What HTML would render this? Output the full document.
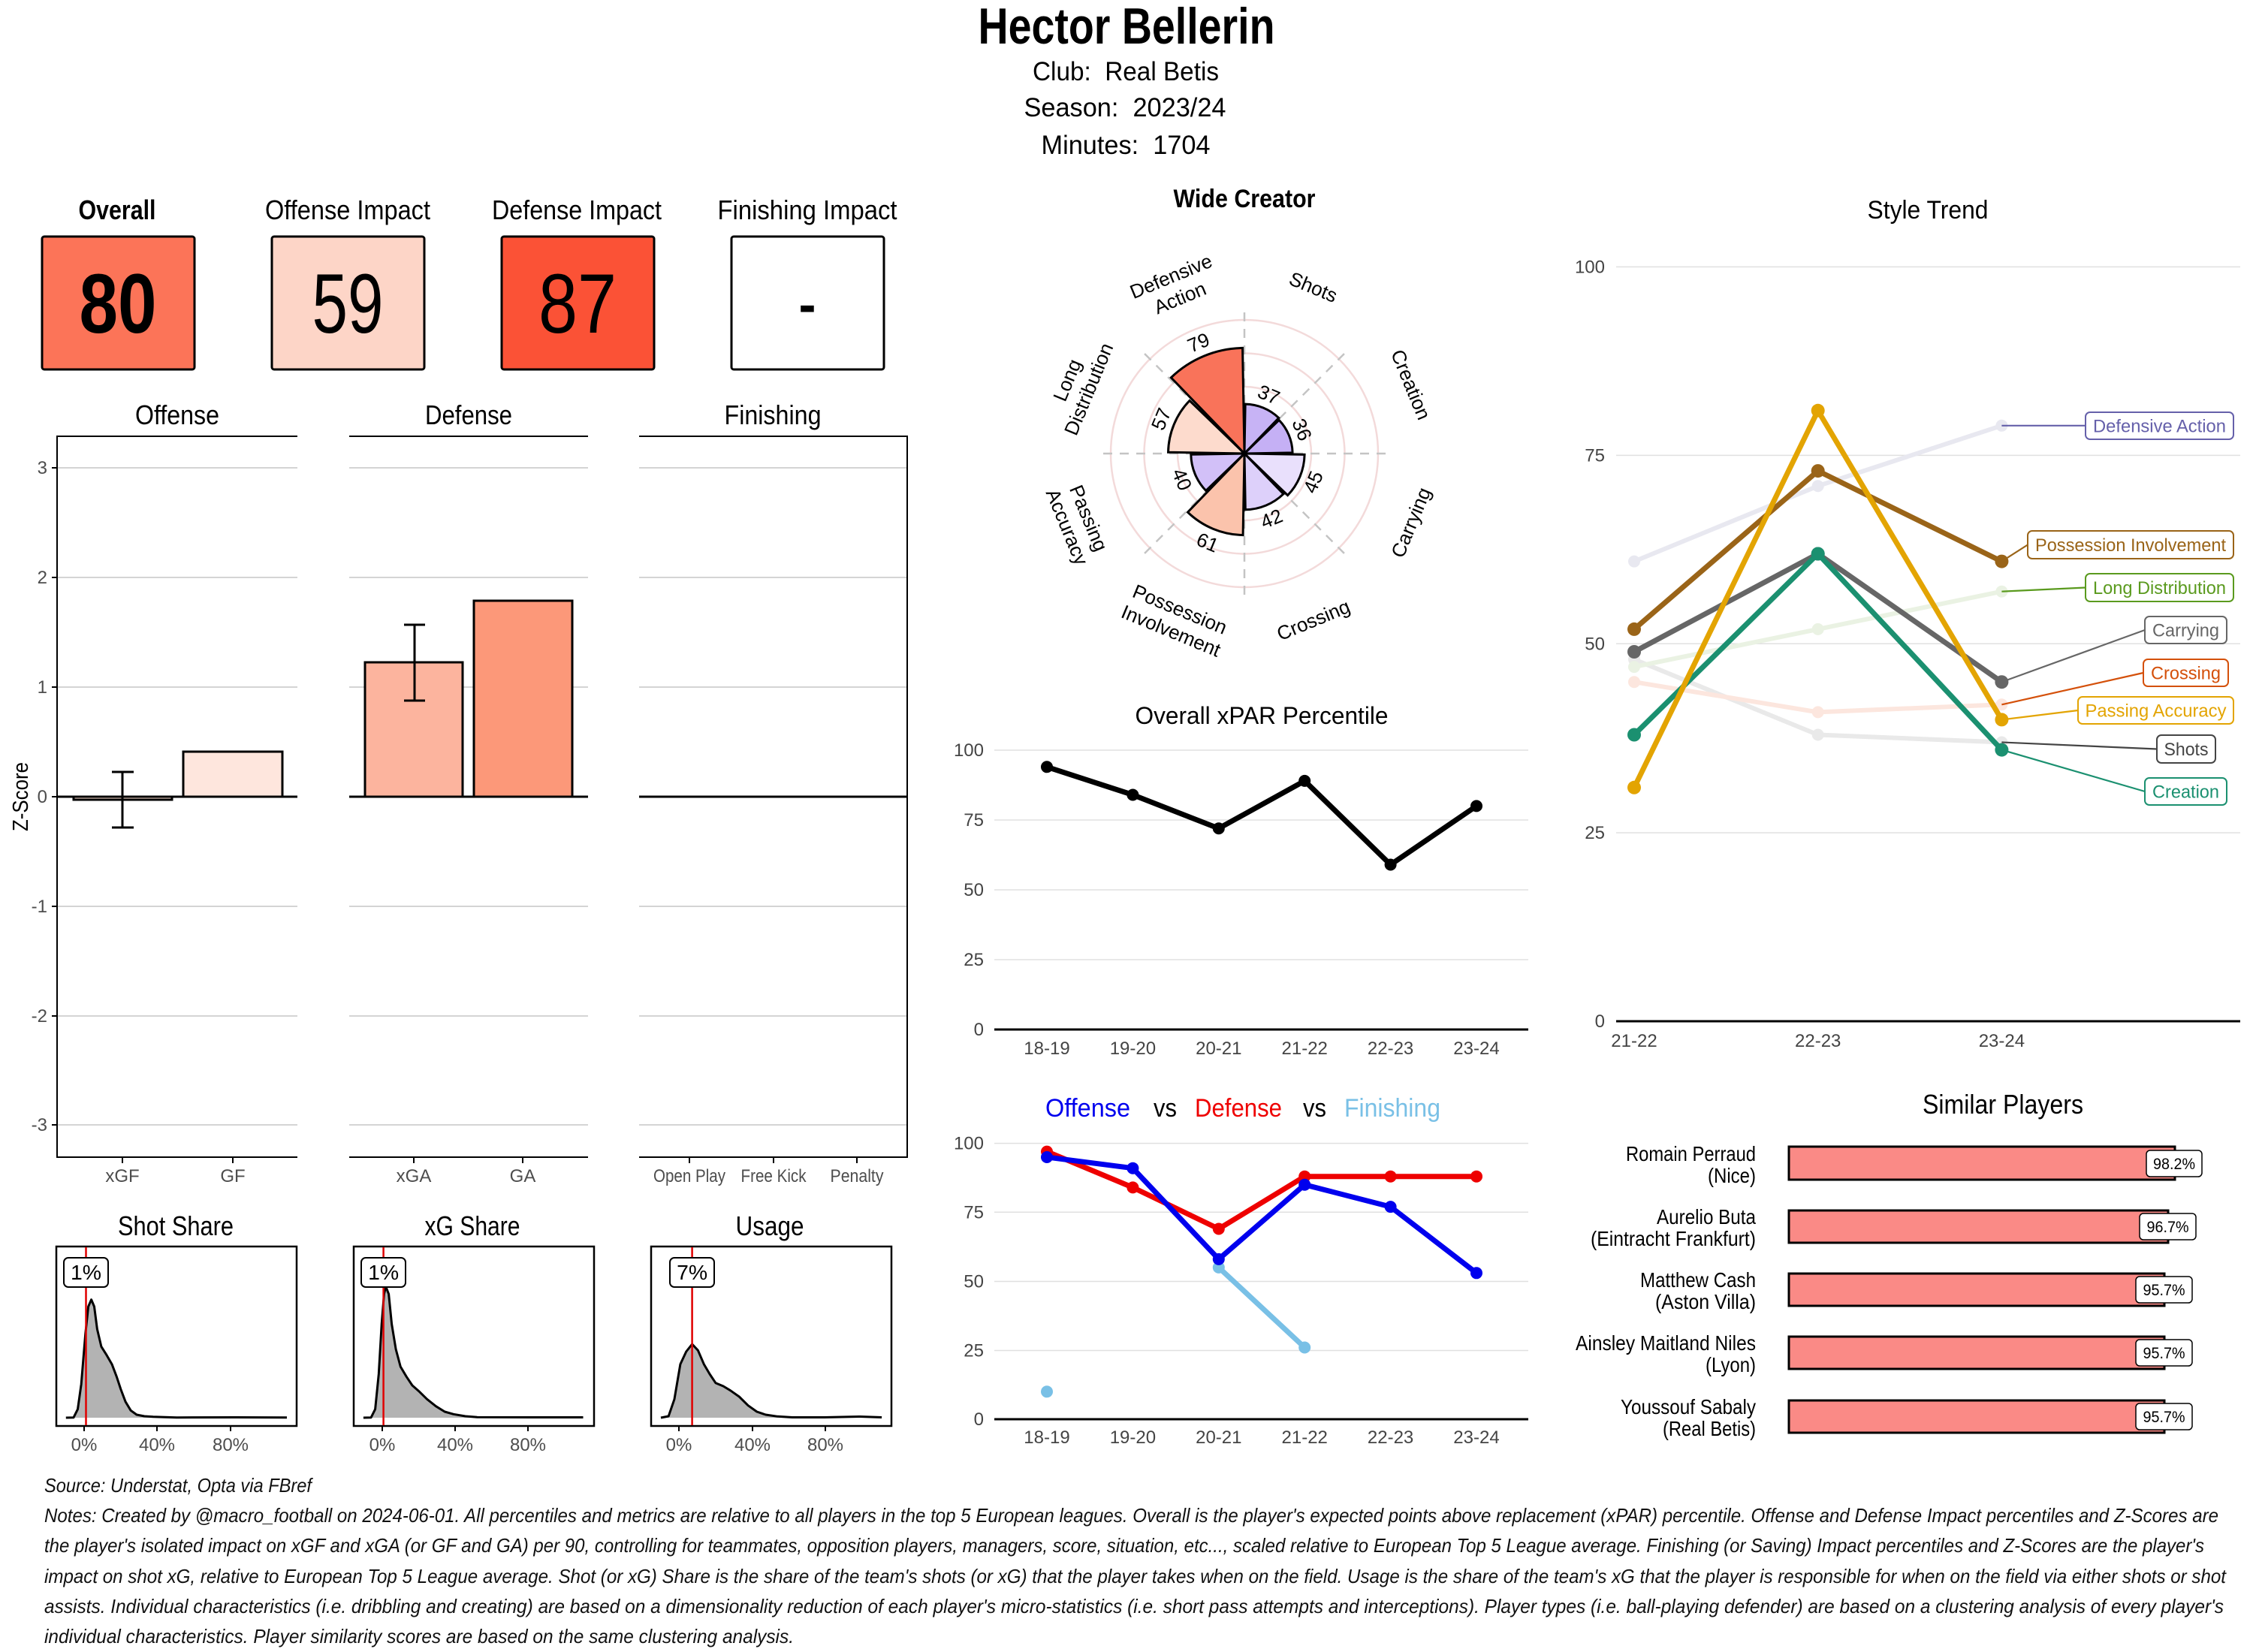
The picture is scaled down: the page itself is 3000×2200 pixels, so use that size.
<!DOCTYPE html>
<html><head><meta charset="utf-8"><style>
html,body{margin:0;padding:0;background:#fff;}
svg{display:block;}
.c{font-family:"Liberation Sans Narrow","Liberation Sans",sans-serif;}
.a{font-family:"Liberation Sans",sans-serif;}
text{white-space:pre;}
</style></head><body>
<svg width="3000" height="2200" viewBox="0 0 3000 2200" xmlns="http://www.w3.org/2000/svg">
<rect width="3000" height="2200" fill="#fff"/>

<!-- Header -->
<text class="c" x="1500" y="58" text-anchor="middle" font-size="68" font-weight="bold" textLength="395" lengthAdjust="spacingAndGlyphs">Hector Bellerin</text>
<text class="c" x="1499" y="107" text-anchor="middle" font-size="35" textLength="248" lengthAdjust="spacingAndGlyphs">Club:  Real Betis</text>
<text class="c" x="1498" y="155" text-anchor="middle" font-size="35" textLength="269" lengthAdjust="spacingAndGlyphs">Season:  2023/24</text>
<text class="c" x="1499" y="205" text-anchor="middle" font-size="35" textLength="225" lengthAdjust="spacingAndGlyphs">Minutes:  1704</text>

<!-- Top impact boxes -->
<g class="c" font-size="36" text-anchor="middle">
<text x="156" y="292" font-weight="bold" textLength="103" lengthAdjust="spacingAndGlyphs">Overall</text>
<text x="463" y="292" textLength="220" lengthAdjust="spacingAndGlyphs">Offense Impact</text>
<text x="768" y="292" textLength="226" lengthAdjust="spacingAndGlyphs">Defense Impact</text>
<text x="1075" y="292" textLength="239" lengthAdjust="spacingAndGlyphs">Finishing Impact</text>
</g>
<g stroke="#000" stroke-width="3">
<rect x="56" y="315" width="203" height="177" rx="3" fill="#FC7458"/>
<rect x="362" y="315" width="203" height="177" rx="3" fill="#FDD5C7"/>
<rect x="668" y="315" width="203" height="177" rx="3" fill="#FB5236"/>
<rect x="974" y="315" width="203" height="177" rx="3" fill="#FFFFFF"/>
</g>
<g class="c" text-anchor="middle" fill="#000">
<text x="157" y="443" font-size="112" font-weight="bold" textLength="103" lengthAdjust="spacingAndGlyphs">80</text>
<text x="463" y="443" font-size="112" textLength="95" lengthAdjust="spacingAndGlyphs">59</text>
<text x="769" y="443" font-size="112" textLength="104" lengthAdjust="spacingAndGlyphs">87</text>
<text x="1075" y="430" font-size="72" font-weight="bold" textLength="23" lengthAdjust="spacingAndGlyphs">-</text>
</g>

<!-- Bar panels -->
<g class="c" font-size="36" text-anchor="middle">
<text x="236" y="565" textLength="112" lengthAdjust="spacingAndGlyphs">Offense</text>
<text x="624" y="565" textLength="116" lengthAdjust="spacingAndGlyphs">Defense</text>
<text x="1029" y="565" textLength="129" lengthAdjust="spacingAndGlyphs">Finishing</text>
</g>
<g stroke="#c6c6c6" stroke-width="1.5">
<line x1="76" y1="623" x2="396" y2="623"/><line x1="76" y1="769" x2="396" y2="769"/><line x1="76" y1="915" x2="396" y2="915"/>
<line x1="76" y1="1207" x2="396" y2="1207"/><line x1="76" y1="1353" x2="396" y2="1353"/><line x1="76" y1="1498" x2="396" y2="1498"/>
<line x1="465" y1="623" x2="783" y2="623"/><line x1="465" y1="769" x2="783" y2="769"/><line x1="465" y1="915" x2="783" y2="915"/>
<line x1="465" y1="1207" x2="783" y2="1207"/><line x1="465" y1="1353" x2="783" y2="1353"/><line x1="465" y1="1498" x2="783" y2="1498"/>
<line x1="851" y1="623" x2="1208" y2="623"/><line x1="851" y1="769" x2="1208" y2="769"/><line x1="851" y1="915" x2="1208" y2="915"/>
<line x1="851" y1="1207" x2="1208" y2="1207"/><line x1="851" y1="1353" x2="1208" y2="1353"/><line x1="851" y1="1498" x2="1208" y2="1498"/>
</g>
<g stroke="#000" stroke-width="2">
<line x1="76" y1="581" x2="396" y2="581"/><line x1="76" y1="1541" x2="396" y2="1541"/><line x1="76" y1="580" x2="76" y2="1542"/>
<line x1="465" y1="581" x2="783" y2="581"/><line x1="465" y1="1541" x2="783" y2="1541"/>
<line x1="851" y1="581" x2="1208" y2="581"/><line x1="851" y1="1541" x2="1208" y2="1541"/><line x1="1208" y1="580" x2="1208" y2="1542"/>
<line x1="69" y1="623" x2="76" y2="623"/><line x1="69" y1="769" x2="76" y2="769"/><line x1="69" y1="915" x2="76" y2="915"/><line x1="69" y1="1061" x2="76" y2="1061"/>
<line x1="69" y1="1207" x2="76" y2="1207"/><line x1="69" y1="1353" x2="76" y2="1353"/><line x1="69" y1="1498" x2="76" y2="1498"/>
<line x1="163" y1="1541" x2="163" y2="1549"/><line x1="310" y1="1541" x2="310" y2="1549"/>
<line x1="551" y1="1541" x2="551" y2="1549"/><line x1="696" y1="1541" x2="696" y2="1549"/>
<line x1="918" y1="1541" x2="918" y2="1549"/><line x1="1030" y1="1541" x2="1030" y2="1549"/><line x1="1141" y1="1541" x2="1141" y2="1549"/>
</g>
<g class="c" font-size="24" fill="#4d4d4d" text-anchor="end">
<text x="63" y="631">3</text><text x="63" y="777">2</text><text x="63" y="923">1</text><text x="63" y="1069">0</text>
<text x="63" y="1215">-1</text><text x="63" y="1361">-2</text><text x="63" y="1506">-3</text>
</g>
<g class="c" font-size="24" fill="#4d4d4d" text-anchor="middle">
<text x="163" y="1574">xGF</text><text x="310" y="1574">GF</text>
<text x="551" y="1574">xGA</text><text x="696" y="1574">GA</text>
<text x="918" y="1574" textLength="96" lengthAdjust="spacingAndGlyphs">Open Play</text><text x="1030" y="1574" textLength="87" lengthAdjust="spacingAndGlyphs">Free Kick</text><text x="1141" y="1574" textLength="71" lengthAdjust="spacingAndGlyphs">Penalty</text>
</g>
<text class="a" font-size="29" text-anchor="middle" transform="translate(37,1061) rotate(-90)" textLength="92" lengthAdjust="spacingAndGlyphs">Z-Score</text>
<g stroke="#000" stroke-width="3">
<rect x="98" y="1061" width="131" height="4" fill="#FEE0D2"/>
<rect x="244" y="1001" width="132" height="60" fill="#FEE6DD"/>
<rect x="486" y="882" width="130" height="179" fill="#FCB49E"/>
<rect x="631" y="800" width="131" height="261" fill="#FC9879"/>
<line x1="76" y1="1061" x2="396" y2="1061"/>
<line x1="465" y1="1061" x2="783" y2="1061"/>
<line x1="851" y1="1061" x2="1208" y2="1061"/>
<line x1="163" y1="1028" x2="163" y2="1102"/><line x1="149" y1="1028" x2="178" y2="1028"/><line x1="149" y1="1102" x2="178" y2="1102"/>
<line x1="552" y1="832" x2="552" y2="933"/><line x1="538" y1="832" x2="566" y2="832"/><line x1="538" y1="933" x2="566" y2="933"/>
</g>

<!-- Density panels -->
<g class="c" font-size="36" text-anchor="middle">
<text x="234" y="1645" textLength="154" lengthAdjust="spacingAndGlyphs">Shot Share</text>
<text x="629" y="1645" textLength="127" lengthAdjust="spacingAndGlyphs">xG Share</text>
<text x="1025" y="1645" textLength="91" lengthAdjust="spacingAndGlyphs">Usage</text>
</g>
<g fill="#b3b3b3">
<path d="M87.8,1888 L98,1887.7 L103.5,1876.7 L108.2,1843.3 L113.7,1776.7 L117.6,1740 L121.6,1730.7 L125.5,1740 L129.4,1770 L134.9,1793.3 L141.2,1803.3 L149,1816.7 L155.3,1833.3 L160.8,1850 L167.1,1866.7 L174.1,1878.3 L182,1884 L192.2,1886 L203.9,1886.7 L235.3,1887.7 L313.7,1887.5 L382,1887.7 L382,1888 Z"/>
<path d="M483.9,1888 L494.1,1887.7 L499.6,1876.7 L504.3,1830 L508.2,1763.3 L511.4,1723.3 L513.7,1713.3 L517.6,1723.3 L521.6,1763.3 L527.1,1796.7 L533.3,1820 L541.2,1833.3 L549,1845 L558.4,1853.3 L568.6,1863.3 L580.4,1872.7 L592.2,1880 L603.9,1883.3 L619.6,1886 L635.3,1887.3 L705.9,1887.5 L776.5,1887.5 L776.5,1888 Z"/>
<path d="M880,1888 L890.2,1886 L898,1863.3 L905.9,1816.7 L913.7,1800 L921.6,1790 L929.4,1798.3 L937.3,1816.7 L945.1,1830 L952.9,1841.7 L963.1,1846 L972.5,1851.7 L984.3,1860 L996.1,1871.7 L1007.8,1880 L1019.6,1884 L1035.3,1886.3 L1054.9,1887.5 L1098,1887.5 L1145.1,1886.5 L1174.1,1887.5 L1174.1,1888 Z"/>
</g>
<g fill="none" stroke="#000" stroke-width="3" stroke-linejoin="round">
<path d="M87.8,1888 L98,1887.7 L103.5,1876.7 L108.2,1843.3 L113.7,1776.7 L117.6,1740 L121.6,1730.7 L125.5,1740 L129.4,1770 L134.9,1793.3 L141.2,1803.3 L149,1816.7 L155.3,1833.3 L160.8,1850 L167.1,1866.7 L174.1,1878.3 L182,1884 L192.2,1886 L203.9,1886.7 L235.3,1887.7 L313.7,1887.5 L382,1887.7"/>
<path d="M483.9,1888 L494.1,1887.7 L499.6,1876.7 L504.3,1830 L508.2,1763.3 L511.4,1723.3 L513.7,1713.3 L517.6,1723.3 L521.6,1763.3 L527.1,1796.7 L533.3,1820 L541.2,1833.3 L549,1845 L558.4,1853.3 L568.6,1863.3 L580.4,1872.7 L592.2,1880 L603.9,1883.3 L619.6,1886 L635.3,1887.3 L705.9,1887.5 L776.5,1887.5"/>
<path d="M880,1888 L890.2,1886 L898,1863.3 L905.9,1816.7 L913.7,1800 L921.6,1790 L929.4,1798.3 L937.3,1816.7 L945.1,1830 L952.9,1841.7 L963.1,1846 L972.5,1851.7 L984.3,1860 L996.1,1871.7 L1007.8,1880 L1019.6,1884 L1035.3,1886.3 L1054.9,1887.5 L1098,1887.5 L1145.1,1886.5 L1174.1,1887.5"/>
</g>
<g fill="none" stroke="#000" stroke-width="2.5">
<rect x="75" y="1660" width="320" height="239"/>
<rect x="471" y="1660" width="320" height="239"/>
<rect x="867" y="1660" width="320" height="239"/>
</g>
<g stroke="#000" stroke-width="2">
<line x1="112" y1="1899" x2="112" y2="1906"/><line x1="209" y1="1899" x2="209" y2="1906"/><line x1="307" y1="1899" x2="307" y2="1906"/>
<line x1="509" y1="1899" x2="509" y2="1906"/><line x1="606" y1="1899" x2="606" y2="1906"/><line x1="703" y1="1899" x2="703" y2="1906"/>
<line x1="904" y1="1899" x2="904" y2="1906"/><line x1="1002" y1="1899" x2="1002" y2="1906"/><line x1="1099" y1="1899" x2="1099" y2="1906"/>
</g>
<g stroke="#e00000" stroke-width="2.5">
<line x1="114.5" y1="1661" x2="114.5" y2="1898"/>
<line x1="510.6" y1="1661" x2="510.6" y2="1898"/>
<line x1="921.6" y1="1661" x2="921.6" y2="1898"/>
</g>
<g fill="#fff" stroke="#000" stroke-width="2">
<rect x="85" y="1675" width="59" height="39" rx="6"/>
<rect x="481" y="1675" width="59" height="39" rx="6"/>
<rect x="892" y="1675" width="59" height="39" rx="6"/>
</g>
<g class="c" font-size="28" text-anchor="middle">
<text x="114.5" y="1704" textLength="41" lengthAdjust="spacingAndGlyphs">1%</text>
<text x="510.6" y="1704" textLength="41" lengthAdjust="spacingAndGlyphs">1%</text>
<text x="921.6" y="1704" textLength="41" lengthAdjust="spacingAndGlyphs">7%</text>
</g>
<g class="c" font-size="24" fill="#4d4d4d" text-anchor="middle">
<text x="112" y="1932">0%</text><text x="209" y="1932">40%</text><text x="307" y="1932">80%</text>
<text x="509" y="1932">0%</text><text x="606" y="1932">40%</text><text x="703" y="1932">80%</text>
<text x="904" y="1932">0%</text><text x="1002" y="1932">40%</text><text x="1099" y="1932">80%</text>
</g>

<!-- Radar -->
<text class="c" x="1657" y="276" text-anchor="middle" font-size="34" font-weight="bold" textLength="189" lengthAdjust="spacingAndGlyphs">Wide Creator</text>
<g fill="none" stroke="#f3dada" stroke-width="2.5">
<circle cx="1657" cy="604" r="44.5"/><circle cx="1657" cy="604" r="89"/><circle cx="1657" cy="604" r="133.5"/><circle cx="1657" cy="604" r="178"/>
</g>
<g stroke="#c4c4c4" stroke-width="2.5" stroke-dasharray="12 10">
<line x1="1657" y1="604" x2="1657" y2="409"/>
<line x1="1657" y1="604" x2="1794.9" y2="466.1"/>
<line x1="1657" y1="604" x2="1852" y2="604"/>
<line x1="1657" y1="604" x2="1794.9" y2="741.9"/>
<line x1="1657" y1="604" x2="1657" y2="799"/>
<line x1="1657" y1="604" x2="1519.1" y2="741.9"/>
<line x1="1657" y1="604" x2="1462" y2="604"/>
<line x1="1657" y1="604" x2="1519.1" y2="466.1"/>
</g>
<g stroke="#000" stroke-width="3" stroke-linejoin="miter">
<path d="M1657,604 L1658.15,538.11 A65.9,65.9 0 0 1 1702.78,556.6 Z" fill="#C7B3F5"/>
<path d="M1657,604 L1703.11,559.47 A64.1,64.1 0 0 1 1721.09,602.88 Z" fill="#C5B0F5"/>
<path d="M1657,604 L1737.09,605.4 A80.1,80.1 0 0 1 1714.62,659.64 Z" fill="#E9E0FC"/>
<path d="M1657,604 L1708.96,657.81 A74.8,74.8 0 0 1 1658.31,678.79 Z" fill="#DDD0FA"/>
<path d="M1657,604 L1655.1,712.58 A108.6,108.6 0 0 1 1581.56,682.12 Z" fill="#FBC3AC"/>
<path d="M1657,604 L1605.78,653.46 A71.2,71.2 0 0 1 1585.81,605.24 Z" fill="#D2C0F8"/>
<path d="M1657,604 L1555.52,602.23 A101.5,101.5 0 0 1 1583.99,533.49 Z" fill="#FDDBCD"/>
<path d="M1657,604 L1559.33,502.86 A140.6,140.6 0 0 1 1654.55,463.42 Z" fill="#F9735A"/>
</g>
<g class="a" font-size="26" text-anchor="middle">
<text transform="translate(1689.5,525.5) rotate(22.5)" y="9">37</text>
<text transform="translate(1733.7,572.2) rotate(67.5)" y="9">36</text>
<text transform="translate(1748.5,641.9) rotate(-67.5)" y="9">45</text>
<text transform="translate(1693,690.8) rotate(-22.5)" y="9">42</text>
<text transform="translate(1608,722.3) rotate(22.5)" y="9">61</text>
<text transform="translate(1573.9,638.4) rotate(67.5)" y="9">40</text>
<text transform="translate(1546.1,558.1) rotate(-67.5)" y="9">57</text>
<text transform="translate(1595.8,456.2) rotate(-22.5)" y="9">79</text>
</g>
<g class="a" font-size="26" text-anchor="middle">
<text transform="translate(1748.8,382.3) rotate(22.5)" y="9">Shots</text>
<text transform="translate(1878.7,512.2) rotate(67.5)" y="9">Creation</text>
<text transform="translate(1878.7,695.8) rotate(-67.5)" y="9">Carrying</text>
<text transform="translate(1748.8,825.7) rotate(-22.5)" y="9">Crossing</text>
<text transform="translate(1565.2,825.7) rotate(22.5)"><tspan x="0" y="-6.5">Possession</tspan><tspan x="0" y="24.5">Involvement</tspan></text>
<text transform="translate(1435.3,695.8) rotate(67.5)"><tspan x="0" y="-6.5">Passing</tspan><tspan x="0" y="24.5">Accuracy</tspan></text>
<text transform="translate(1435.3,512.2) rotate(-67.5)"><tspan x="0" y="-6.5">Long</tspan><tspan x="0" y="24.5">Distribution</tspan></text>
<text transform="translate(1565.2,382.3) rotate(-22.5)"><tspan x="0" y="-6.5">Defensive</tspan><tspan x="0" y="24.5">Action</tspan></text>
</g>

<!-- Overall xPAR Percentile -->
<text class="a" x="1680" y="964" text-anchor="middle" font-size="32" textLength="337" lengthAdjust="spacingAndGlyphs">Overall xPAR Percentile</text>
<g stroke="#e0e0e0" stroke-width="1.5">
<line x1="1324" y1="999" x2="2035" y2="999"/><line x1="1324" y1="1092" x2="2035" y2="1092"/>
<line x1="1324" y1="1185" x2="2035" y2="1185"/><line x1="1324" y1="1278" x2="2035" y2="1278"/>
</g>
<line x1="1324" y1="1371" x2="2035" y2="1371" stroke="#000" stroke-width="3"/>
<g class="a" font-size="24" fill="#444" text-anchor="end">
<text x="1310" y="1007">100</text><text x="1310" y="1100">75</text><text x="1310" y="1193">50</text><text x="1310" y="1286">25</text><text x="1310" y="1379">0</text>
</g>
<g class="a" font-size="24" fill="#444" text-anchor="middle">
<text x="1394" y="1404">18-19</text><text x="1508.4" y="1404">19-20</text><text x="1622.8" y="1404">20-21</text>
<text x="1737.2" y="1404">21-22</text><text x="1851.6" y="1404">22-23</text><text x="1966" y="1404">23-24</text>
</g>
<path d="M1394,1021.3 L1508.4,1058.5 L1622.8,1103.2 L1737.2,1039.9 L1851.6,1151.5 L1966,1073.4" fill="none" stroke="#000" stroke-width="7" stroke-linejoin="round"/>
<g fill="#000">
<circle cx="1394" cy="1021.3" r="8"/><circle cx="1508.4" cy="1058.5" r="8"/><circle cx="1622.8" cy="1103.2" r="8"/>
<circle cx="1737.2" cy="1039.9" r="8"/><circle cx="1851.6" cy="1151.5" r="8"/><circle cx="1966" cy="1073.4" r="8"/>
</g>

<!-- Offense vs Defense vs Finishing -->
<g class="a" font-size="34">
<text x="1392" y="1487" fill="#0000EE" textLength="113" lengthAdjust="spacingAndGlyphs">Offense</text>
<text x="1536" y="1487" fill="#000" textLength="31" lengthAdjust="spacingAndGlyphs">vs</text>
<text x="1591" y="1487" fill="#EE0000" textLength="116" lengthAdjust="spacingAndGlyphs">Defense</text>
<text x="1735" y="1487" fill="#000" textLength="31" lengthAdjust="spacingAndGlyphs">vs</text>
<text x="1790" y="1487" fill="#79C0E6" textLength="128" lengthAdjust="spacingAndGlyphs">Finishing</text>
</g>
<g stroke="#e0e0e0" stroke-width="1.5">
<line x1="1324" y1="1522.6" x2="2035" y2="1522.6"/><line x1="1324" y1="1614.3" x2="2035" y2="1614.3"/>
<line x1="1324" y1="1706.5" x2="2035" y2="1706.5"/><line x1="1324" y1="1798.5" x2="2035" y2="1798.5"/>
</g>
<line x1="1324" y1="1890" x2="2035" y2="1890" stroke="#000" stroke-width="3"/>
<g class="a" font-size="24" fill="#444" text-anchor="end">
<text x="1310" y="1530.6">100</text><text x="1310" y="1622.3">75</text><text x="1310" y="1714.5">50</text><text x="1310" y="1806.5">25</text><text x="1310" y="1898">0</text>
</g>
<g class="a" font-size="24" fill="#444" text-anchor="middle">
<text x="1394" y="1922">18-19</text><text x="1508.4" y="1922">19-20</text><text x="1622.8" y="1922">20-21</text>
<text x="1737.2" y="1922">21-22</text><text x="1851.6" y="1922">22-23</text><text x="1966" y="1922">23-24</text>
</g>
<path d="M1622.8,1687.9 L1737.2,1794.5" fill="none" stroke="#79C0E6" stroke-width="7"/>
<g fill="#79C0E6"><circle cx="1394" cy="1853.3" r="8"/><circle cx="1622.8" cy="1687.9" r="8"/><circle cx="1737.2" cy="1794.5" r="8"/></g>
<path d="M1394,1533.6 L1508.4,1581.4 L1622.8,1636.5 L1737.2,1566.7 L1851.6,1566.7 L1966,1566.7" fill="none" stroke="#EE0000" stroke-width="7" stroke-linejoin="round"/>
<g fill="#EE0000"><circle cx="1394" cy="1533.6" r="8"/><circle cx="1508.4" cy="1581.4" r="8"/><circle cx="1622.8" cy="1636.5" r="8"/><circle cx="1737.2" cy="1566.7" r="8"/><circle cx="1851.6" cy="1566.7" r="8"/><circle cx="1966" cy="1566.7" r="8"/></g>
<path d="M1394,1541 L1508.4,1555.7 L1622.8,1676.9 L1737.2,1577.7 L1851.6,1607.1 L1966,1695.3" fill="none" stroke="#0000EE" stroke-width="7" stroke-linejoin="round"/>
<g fill="#0000EE"><circle cx="1394" cy="1541" r="8"/><circle cx="1508.4" cy="1555.7" r="8"/><circle cx="1622.8" cy="1676.9" r="8"/><circle cx="1737.2" cy="1577.7" r="8"/><circle cx="1851.6" cy="1607.1" r="8"/><circle cx="1966" cy="1695.3" r="8"/></g>

<!-- Style Trend -->
<text class="a" x="2567" y="291" text-anchor="middle" font-size="34" textLength="161" lengthAdjust="spacingAndGlyphs">Style Trend</text>
<g stroke="#e0e0e0" stroke-width="1.5">
<line x1="2152" y1="355.4" x2="2983" y2="355.4"/><line x1="2152" y1="606.4" x2="2983" y2="606.4"/>
<line x1="2152" y1="857.3" x2="2983" y2="857.3"/><line x1="2152" y1="1109" x2="2983" y2="1109"/>
</g>
<line x1="2152" y1="1360" x2="2983" y2="1360" stroke="#000" stroke-width="3"/>
<g class="a" font-size="24" fill="#444" text-anchor="end">
<text x="2137" y="363.4">100</text><text x="2137" y="614.4">75</text><text x="2137" y="865.3">50</text><text x="2137" y="1117">25</text><text x="2137" y="1368">0</text>
</g>
<g class="a" font-size="24" fill="#444" text-anchor="middle">
<text x="2176" y="1394">21-22</text><text x="2420.7" y="1394">22-23</text><text x="2665.4" y="1394">23-24</text>
</g>
<!-- faded series -->
<g fill="none" stroke-width="6" stroke-linejoin="round">
<path d="M2176,747.6 L2420.7,647.2 L2665.4,566.8" stroke="#e8e8f0"/>
<path d="M2176,878.1 L2420.7,978.5 L2665.4,988.5" stroke="#e9e9e9"/>
<path d="M2176,908.2 L2420.7,948.4 L2665.4,938.3" stroke="#fce6de"/>
<path d="M2176,888.1 L2420.7,837.9 L2665.4,787.7" stroke="#eaf2e3"/>
</g>
<g fill="#e8e8f0"><circle cx="2176" cy="747.6" r="8"/><circle cx="2420.7" cy="647.2" r="8"/><circle cx="2665.4" cy="566.8" r="8"/></g>
<g fill="#e9e9e9"><circle cx="2176" cy="878.1" r="8"/><circle cx="2420.7" cy="978.5" r="8"/><circle cx="2665.4" cy="988.5" r="8"/></g>
<g fill="#fce6de"><circle cx="2176" cy="908.2" r="8"/><circle cx="2420.7" cy="948.4" r="8"/><circle cx="2665.4" cy="938.3" r="8"/></g>
<g fill="#eaf2e3"><circle cx="2176" cy="888.1" r="8"/><circle cx="2420.7" cy="837.9" r="8"/><circle cx="2665.4" cy="787.7" r="8"/></g>
<!-- highlighted series -->
<path d="M2176,868 L2420.7,737.5 L2665.4,908.2" fill="none" stroke="#666666" stroke-width="7" stroke-linejoin="round"/>
<g fill="#666666"><circle cx="2176" cy="868" r="9"/><circle cx="2420.7" cy="737.5" r="9"/><circle cx="2665.4" cy="908.2" r="9"/></g>
<path d="M2176,837.9 L2420.7,627.1 L2665.4,747.6" fill="none" stroke="#9a6418" stroke-width="7" stroke-linejoin="round"/>
<g fill="#9a6418"><circle cx="2176" cy="837.9" r="9"/><circle cx="2420.7" cy="627.1" r="9"/><circle cx="2665.4" cy="747.6" r="9"/></g>
<path d="M2176,978.5 L2420.7,737.5 L2665.4,998.6" fill="none" stroke="#1b9070" stroke-width="7" stroke-linejoin="round"/>
<g fill="#1b9070"><circle cx="2176" cy="978.5" r="9"/><circle cx="2420.7" cy="737.5" r="9"/><circle cx="2665.4" cy="998.6" r="9"/></g>
<path d="M2176,1048.8 L2420.7,546.8 L2665.4,958.4" fill="none" stroke="#E3A402" stroke-width="7" stroke-linejoin="round"/>
<g fill="#E3A402"><circle cx="2176" cy="1048.8" r="9"/><circle cx="2420.7" cy="546.8" r="9"/><circle cx="2665.4" cy="958.4" r="9"/></g>
<!-- leader lines -->
<g stroke-width="2.2" fill="none">
<line x1="2665.4" y1="566.8" x2="2777" y2="566.8" stroke="#6560AA"/>
<line x1="2665.4" y1="747.6" x2="2700" y2="725.5" stroke="#9a6418"/>
<line x1="2665.4" y1="787.7" x2="2777" y2="782.5" stroke="#5a9a1e"/>
<line x1="2665.4" y1="908.2" x2="2856" y2="839" stroke="#666666"/>
<line x1="2665.4" y1="938.3" x2="2854" y2="896" stroke="#D4500A"/>
<line x1="2665.4" y1="958.4" x2="2767" y2="946" stroke="#E3A402"/>
<line x1="2665.4" y1="988.5" x2="2872" y2="997.5" stroke="#444444"/>
<line x1="2665.4" y1="998.6" x2="2856" y2="1054" stroke="#1b9070"/>
</g>
<g fill="#fff" stroke-width="2">
<rect x="2777" y="549" width="197" height="36" rx="6" stroke="#6560AA"/>
<rect x="2700" y="707" width="274" height="37" rx="6" stroke="#9a6418"/>
<rect x="2777" y="764" width="197" height="37" rx="6" stroke="#5a9a1e"/>
<rect x="2856" y="821" width="109" height="36" rx="6" stroke="#666666"/>
<rect x="2854" y="878" width="113" height="36" rx="6" stroke="#D4500A"/>
<rect x="2767" y="928" width="207" height="36" rx="6" stroke="#E3A402"/>
<rect x="2872" y="979" width="78" height="37" rx="6" stroke="#444444"/>
<rect x="2856" y="1036" width="109" height="36" rx="6" stroke="#1b9070"/>
</g>
<g class="a" font-size="24" text-anchor="middle">
<text x="2875.5" y="575.5" fill="#6560AA" textLength="177" lengthAdjust="spacingAndGlyphs">Defensive Action</text>
<text x="2837" y="734" fill="#9a6418" textLength="254" lengthAdjust="spacingAndGlyphs">Possession Involvement</text>
<text x="2875.5" y="791" fill="#5a9a1e" textLength="177" lengthAdjust="spacingAndGlyphs">Long Distribution</text>
<text x="2910.5" y="847.5" fill="#666666" textLength="89" lengthAdjust="spacingAndGlyphs">Carrying</text>
<text x="2910.5" y="904.5" fill="#D4500A" textLength="93" lengthAdjust="spacingAndGlyphs">Crossing</text>
<text x="2870.5" y="954.5" fill="#E3A402" textLength="188" lengthAdjust="spacingAndGlyphs">Passing Accuracy</text>
<text x="2911" y="1006" fill="#444444" textLength="59" lengthAdjust="spacingAndGlyphs">Shots</text>
<text x="2910.5" y="1062.5" fill="#1b9070" textLength="89" lengthAdjust="spacingAndGlyphs">Creation</text>
</g>

<!-- Similar Players -->
<text class="c" x="2667" y="1483" text-anchor="middle" font-size="36" textLength="214" lengthAdjust="spacingAndGlyphs">Similar Players</text>
<g stroke="#000" stroke-width="3" fill="#FA8A86">
<rect x="2382" y="1527" width="514" height="44"/>
<rect x="2382" y="1612" width="505" height="43"/>
<rect x="2382" y="1696" width="500" height="43"/>
<rect x="2382" y="1780" width="500" height="43"/>
<rect x="2382" y="1865" width="500" height="43"/>
</g>
<g fill="#fff" stroke="#000" stroke-width="1.5">
<rect x="2858" y="1532" width="74" height="35" rx="5"/>
<rect x="2849" y="1616" width="75" height="35" rx="5"/>
<rect x="2844" y="1700" width="75" height="35" rx="5"/>
<rect x="2844" y="1784" width="75" height="35" rx="5"/>
<rect x="2844" y="1869" width="75" height="35" rx="5"/>
</g>
<g class="c" font-size="21" text-anchor="middle">
<text x="2895" y="1557" textLength="56" lengthAdjust="spacingAndGlyphs">98.2%</text>
<text x="2886.5" y="1641" textLength="56" lengthAdjust="spacingAndGlyphs">96.7%</text>
<text x="2881.5" y="1725" textLength="56" lengthAdjust="spacingAndGlyphs">95.7%</text>
<text x="2881.5" y="1809" textLength="56" lengthAdjust="spacingAndGlyphs">95.7%</text>
<text x="2881.5" y="1894" textLength="56" lengthAdjust="spacingAndGlyphs">95.7%</text>
</g>
<g class="c" font-size="28" text-anchor="end">
<text x="2338" y="1546" textLength="173" lengthAdjust="spacingAndGlyphs">Romain Perraud</text>
<text x="2338" y="1575" textLength="64" lengthAdjust="spacingAndGlyphs">(Nice)</text>
<text x="2338" y="1630" textLength="132" lengthAdjust="spacingAndGlyphs">Aurelio Buta</text>
<text x="2338" y="1659" textLength="220" lengthAdjust="spacingAndGlyphs">(Eintracht Frankfurt)</text>
<text x="2338" y="1714" textLength="154" lengthAdjust="spacingAndGlyphs">Matthew Cash</text>
<text x="2338" y="1743" textLength="134" lengthAdjust="spacingAndGlyphs">(Aston Villa)</text>
<text x="2338" y="1798" textLength="240" lengthAdjust="spacingAndGlyphs">Ainsley Maitland Niles</text>
<text x="2338" y="1827" textLength="67" lengthAdjust="spacingAndGlyphs">(Lyon)</text>
<text x="2338" y="1883" textLength="180" lengthAdjust="spacingAndGlyphs">Youssouf Sabaly</text>
<text x="2338" y="1912" textLength="124" lengthAdjust="spacingAndGlyphs">(Real Betis)</text>
</g>

<!-- Notes -->
<g class="c" font-size="26" font-style="italic" fill="#111">
<text x="59" y="1987" textLength="356" lengthAdjust="spacingAndGlyphs">Source: Understat, Opta via FBref</text>
<text x="59" y="2027" textLength="2895" lengthAdjust="spacingAndGlyphs">Notes: Created by @macro_football on 2024-06-01. All percentiles and metrics are relative to all players in the top 5 European leagues. Overall is the player's expected points above replacement (xPAR) percentile. Offense and Defense Impact percentiles and Z-Scores are</text>
<text x="59" y="2067" textLength="2876" lengthAdjust="spacingAndGlyphs">the player's isolated impact on xGF and xGA (or GF and GA) per 90, controlling for teammates, opposition players, managers, score, situation, etc..., scaled relative to European Top 5 League average. Finishing (or Saving) Impact percentiles and Z-Scores are the player's</text>
<text x="59" y="2108" textLength="2905" lengthAdjust="spacingAndGlyphs">impact on shot xG, relative to European Top 5 League average. Shot (or xG) Share is the share of the team's shots (or xG) that the player takes when on the field. Usage is the share of the team's xG that the player is responsible for when on the field via either shots or shot</text>
<text x="59" y="2148" textLength="2902" lengthAdjust="spacingAndGlyphs">assists. Individual characteristics (i.e. dribbling and creating) are based on a dimensionality reduction of each player's micro-statistics (i.e. short pass attempts and interceptions). Player types (i.e. ball-playing defender) are based on a clustering analysis of every player's</text>
<text x="59" y="2188" textLength="998" lengthAdjust="spacingAndGlyphs">individual characteristics. Player similarity scores are based on the same clustering analysis.</text>
</g>
</svg>
</body></html>
